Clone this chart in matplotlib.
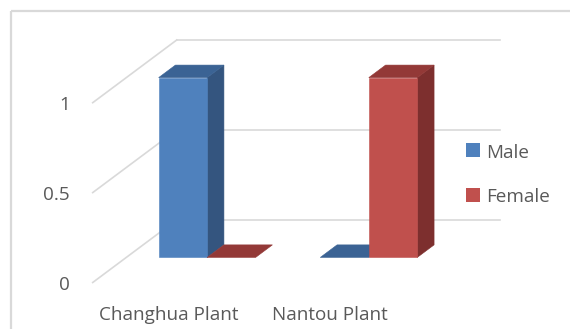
import matplotlib
matplotlib.use("Agg")
import matplotlib.pyplot as plt
from matplotlib.patches import Polygon, Rectangle

# ---- data ----
categories = ["Changhua Plant", "Nantou Plant"]
series_names = ["Male", "Female"]
male = [1, 0]
female = [0, 1]
series_values = [male, female]
yticks = [0, 0.5, 1]
ytick_labels = ["0", "0.5", "1"]

# ---- style ----
front_col = ["#4F81BD", "#C0504D"]
side_col = ["#34557F", "#7D2F2E"]
top_col = ["#3B6394", "#933937"]
grid_col = "#D9D9D9"
text_col = "#595959"
FONT = "Open Sans"

W, H = 570, 329
fig = plt.figure(figsize=(W / 100, H / 100), dpi=100)

# geometry (pixels)
X0, Y0 = 92.7, 282.5       # front-left corner of the floor
CAT_PX = 161.65            # width of one category
UNIT_PX = 179.8            # pixels per value unit
DEPTH_PX = (84.0, 62.7)    # oblique depth offset

# overlay axes in pixel units for frame and legend
axp = fig.add_axes([0, 0, 1, 1])
axp.set_xlim(0, W)
axp.set_ylim(H, 0)
axp.axis("off")

ax = fig.add_axes([0, 0, 1, 1])
ax.set_xlim(-X0 / CAT_PX, (W - X0) / CAT_PX)
ax.set_ylim(-(H - Y0) / UNIT_PX, Y0 / UNIT_PX)
ax.axis("off")
ax.patch.set_alpha(0)

DX = DEPTH_PX[0] / CAT_PX
DY = DEPTH_PX[1] / UNIT_PX
ncat = len(categories)


def P(x, v, d):
    return (x + d * DX, v + d * DY)


# chart frame
axp.plot([10.5, W], [11, 11], color=grid_col, lw=1.6, solid_capstyle="butt")
axp.plot([10.5, 10.5], [11, H], color=grid_col, lw=1.6, solid_capstyle="butt")

# walls gridlines
for v in yticks:
    ax.plot([0, DX], [v, v + DY], color=grid_col, lw=1.2, zorder=1)
    ax.plot([DX, ncat + DX], [v + DY, v + DY], color=grid_col, lw=1.2, zorder=1)

# bars
bar_w = 0.3
d0, d1 = 0.4, 0.6
z = 2
for c in range(ncat):
    for s, vals in enumerate(series_values):
        h = vals[c]
        x0 = c + 0.5 - bar_w * len(series_values) / 2 + s * bar_w
        x1 = x0 + bar_w
        if h > 0:
            front = [P(x0, 0, d0), P(x1, 0, d0), P(x1, h, d0), P(x0, h, d0)]
            side = [P(x1, 0, d0), P(x1, 0, d1), P(x1, h, d1), P(x1, h, d0)]
            ax.add_patch(Polygon(side, closed=True, fc=side_col[s], ec=side_col[s], lw=0.4, zorder=z))
            ax.add_patch(Polygon(front, closed=True, fc=front_col[s], ec=front_col[s], lw=0.4, zorder=z))
        top = [P(x0, h, d0), P(x1, h, d0), P(x1, h, d1), P(x0, h, d1)]
        ax.add_patch(Polygon(top, closed=True, fc=top_col[s], ec=top_col[s], lw=0.4, zorder=z))
        z += 1

# font size fitted so "Changhua Plant" is ~139 px wide
fig.canvas.draw()
r = fig.canvas.get_renderer()
probe = ax.text(0, 0, categories[0], fontsize=16, family=FONT)
wpx = probe.get_window_extent(r).width
probe.remove()
fs = 16 * 139.0 / wpx

# y tick labels
for v, lab in zip(yticks, ytick_labels):
    ax.text((70 - X0) / CAT_PX, v - 7.5 / UNIT_PX, lab, ha="right", va="baseline",
            fontsize=fs, color=text_col, family=FONT)

# category labels
for c, cat in enumerate(categories):
    ax.text(c + 0.5 - 0.03, -37.5 / UNIT_PX, cat, ha="center", va="baseline",
            fontsize=fs, color=text_col, family=FONT)

# legend
leg_y = [150, 195]
for s, name in enumerate(series_names):
    axp.add_patch(Rectangle((466, leg_y[s] - 6.7), 14, 13.4, fc=front_col[s], ec="none"))
    axp.text(486.5, leg_y[s] + 7.5, name, ha="left", va="baseline",
             fontsize=fs, color=text_col, family=FONT)

fig.savefig("out.png", dpi=100)
